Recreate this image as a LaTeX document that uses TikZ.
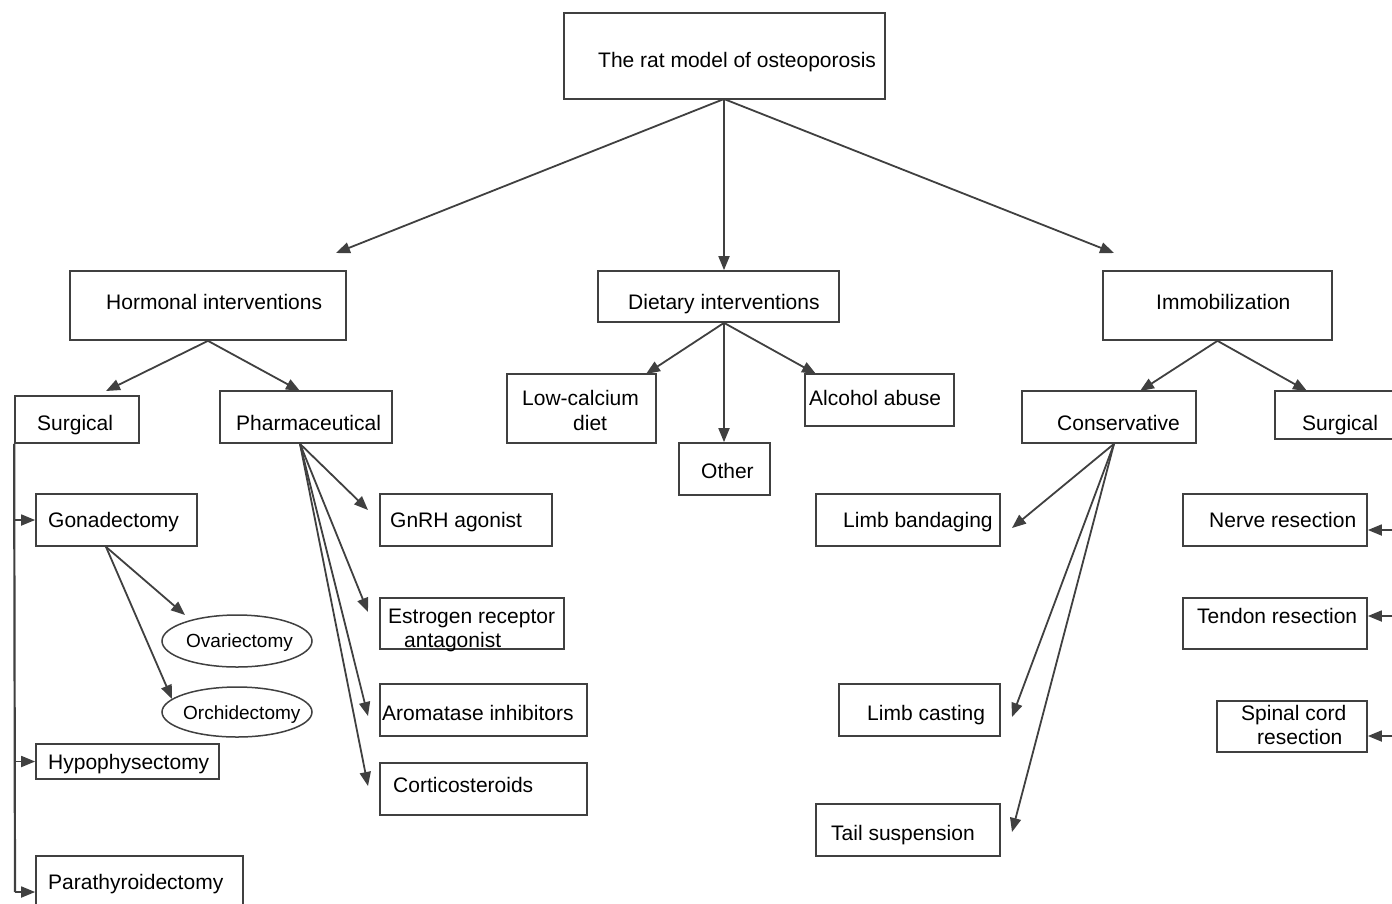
\documentclass[tikz,border=0pt]{standalone}
\usepackage{fontspec}
\setmainfont{Liberation Sans}
\usetikzlibrary{arrows.meta,shapes.geometric}
\definecolor{lc}{HTML}{404040}
\newcommand\fsA{\fontsize{21}{25}\selectfont}
\newcommand\fsB{\fontsize{19}{22}\selectfont}
\newcommand\mybox[5]{\node[box, minimum width={#4-#2}, minimum height={#5-#3}] (#1) at ({(#2+#4)/2},{(#3+#5)/2}) {};}
\tikzset{
 box/.style={draw=lc, line width=1.7pt, rectangle, inner sep=0pt},
 oval/.style={draw=lc, line width=1.5pt, ellipse, inner sep=0pt},
 txt/.style={anchor=mid west, inner sep=0pt, font=\fsA, text=black, yshift=-5pt},
 stxt/.style={anchor=mid west, inner sep=0pt, font=\fsB, text=black, yshift=-4pt},
 arr/.style={draw=lc, line width=1.8pt, -{Triangle[length=14pt,width=11pt]}},
 ln/.style={draw=lc, line width=2.2pt}
}
\begin{document}
\begin{tikzpicture}[x=1pt,y=-1pt]
\useasboundingbox (0,0) rectangle (1392,903);
\fill[white] (0,0) rectangle (1392,903);
% boxes
\mybox{root}{564}{13}{885}{99}
\mybox{horm}{70}{271}{346}{340}
\mybox{diet}{598}{271}{839}{322}
\mybox{immo}{1103}{271}{1332}{340}
\mybox{surgL}{15}{396}{139}{443}
\mybox{pharm}{220}{391}{392}{443}
\mybox{lowca}{507}{374}{656}{443}
\mybox{other}{679}{443}{770}{495}
\mybox{alco}{805}{374}{954}{426}
\mybox{cons}{1022}{391}{1196}{443}
\mybox{surgR}{1275}{391}{1402}{439}
\mybox{gonad}{36}{494}{197}{546}
\mybox{hypo}{36}{744}{219}{779}
\mybox{para}{36}{856}{243}{928}
\mybox{gnrh}{380}{494}{552}{546}
\mybox{estr}{380}{598}{564}{649}
\mybox{arom}{380}{684}{587}{736}
\mybox{cort}{380}{763}{587}{815}
\mybox{bandg}{816}{494}{1000}{546}
\mybox{cast}{839}{684}{1000}{736}
\mybox{tail}{816}{804}{1000}{856}
\mybox{nerve}{1183}{494}{1367}{546}
\mybox{tend}{1183}{598}{1367}{649}
\mybox{spin}{1217}{701}{1367}{752}
\node[oval, minimum width=150, minimum height=52] (ovar) at (237,641) {};
\node[oval, minimum width=150, minimum height=50] (orch) at (237,712) {};
% texts
\node[txt] (t1) at (598,60) {The rat model of osteoporosis};
\node[txt] (t2) at (106,302) {Hormonal interventions};
\node[txt] (t3) at (628,302) {Dietary interventions};
\node[txt] (t4) at (1156,302) {Immobilization};
\node[txt] (t5) at (37,423) {Surgical};
\node[txt] (t6) at (236,423) {Pharmaceutical};
\node[txt] (t7) at (522,398) {Low-calcium};
\node[txt] (t8) at (573,423) {diet};
\node[txt] (t9) at (701,471) {Other};
\node[txt] (t10) at (809,398) {Alcohol abuse};
\node[txt] (t11) at (1057,423) {Conservative};
\node[txt] (t12) at (1302,423) {Surgical};
\node[txt] (t13) at (48,520) {Gonadectomy};
\node[stxt] (t14) at (186,641) {Ovariectomy};
\node[stxt] (t15) at (183,713) {Orchidectomy};
\node[txt] (t16) at (48,762) {Hypophysectomy};
\node[txt] (t17) at (48,882) {Parathyroidectomy};
\node[txt] (t18) at (390,520) {GnRH agonist};
\node[txt] (t19) at (388,616) {Estrogen receptor};
\node[txt] (t20) at (404,640) {antagonist};
\node[txt] (t21) at (382,713) {Aromatase inhibitors};
\node[txt] (t22) at (393,785) {Corticosteroids};
\node[txt] (t23) at (843,520) {Limb bandaging};
\node[txt] (t24) at (867,713) {Limb casting};
\node[txt] (t25) at (831,833) {Tail suspension};
\node[txt] (t26) at (1209,520) {Nerve resection};
\node[txt] (t27) at (1197,616) {Tendon resection};
\node[txt] (t28) at (1241,713) {Spinal cord};
\node[txt] (t29) at (1257,737) {resection};
% free-end coordinates
\coordinate (eH) at (336,253);
\coordinate (eI) at (1114,253);
\coordinate (eSL) at (106,391);
\coordinate (eP) at (300,391);
\coordinate (eLC) at (646,374);
\coordinate (eAA) at (816,374);
\coordinate (eCo) at (1140,391);
\coordinate (eSR) at (1307,391);
\coordinate (eOv) at (185,615);
\coordinate (eOr) at (172,699);
\coordinate (eG1) at (368,510);
\coordinate (eG2) at (368,612);
\coordinate (eG3) at (368,716);
\coordinate (eG4) at (368,786);
\coordinate (eB) at (1012,528);
\coordinate (eC) at (1012,717);
\coordinate (eT) at (1012,832);
\coordinate (lbot) at (15,892);
\coordinate (rtop) at (1395,439);
\coordinate (rbot) at (1395,736);
\coordinate (rn) at (1395,530);
\coordinate (rt) at (1395,616);
\coordinate (rootb) at (724,99);
% connectors
\draw[arr] (rootb) -- (eH);
\draw[arr] (rootb) -- (rootb |- diet.north);
\draw[arr] (rootb) -- (eI);
\draw[arr] (horm.south) -- (eSL);
\draw[arr] (horm.south) -- (eP);
\draw[arr] ([xshift=5.5pt]diet.south) -- (eLC);
\draw[arr] ([xshift=5.5pt]diet.south) -- ([xshift=5.5pt]diet.south |- other.north);
\draw[arr] ([xshift=5.5pt]diet.south) -- (eAA);
\draw[arr] (immo.south) -- (eCo);
\draw[arr] (immo.south) -- (eSR);
\draw[ln] (surgL.south west) -- (lbot);
\draw[arr] (surgL.south west |- gonad.west) -- (gonad.west);
\draw[arr] (surgL.south west |- hypo.west) -- (hypo.west);
\draw[arr] (lbot) -- (lbot -| para.west);
\draw[arr] ([xshift=-10.5pt]gonad.south) -- (eOv);
\draw[arr] ([xshift=-10.5pt]gonad.south) -- (eOr);
\draw[arr] ([xshift=-6pt]pharm.south) -- (eG1);
\draw[arr] ([xshift=-6pt]pharm.south) -- (eG2);
\draw[arr] ([xshift=-6pt]pharm.south) -- (eG3);
\draw[arr] ([xshift=-6pt]pharm.south) -- (eG4);
\draw[arr] ([xshift=5pt]cons.south) -- (eB);
\draw[arr] ([xshift=5pt]cons.south) -- (eC);
\draw[arr] ([xshift=5pt]cons.south) -- (eT);
\draw[ln] (rtop) -- (rbot);
\draw[arr] (rn) -- (rn -| nerve.east);
\draw[arr] (rt) -- (rt -| tend.east);
\draw[arr] (rbot) -- (rbot -| spin.east);
\end{tikzpicture}
\end{document}
